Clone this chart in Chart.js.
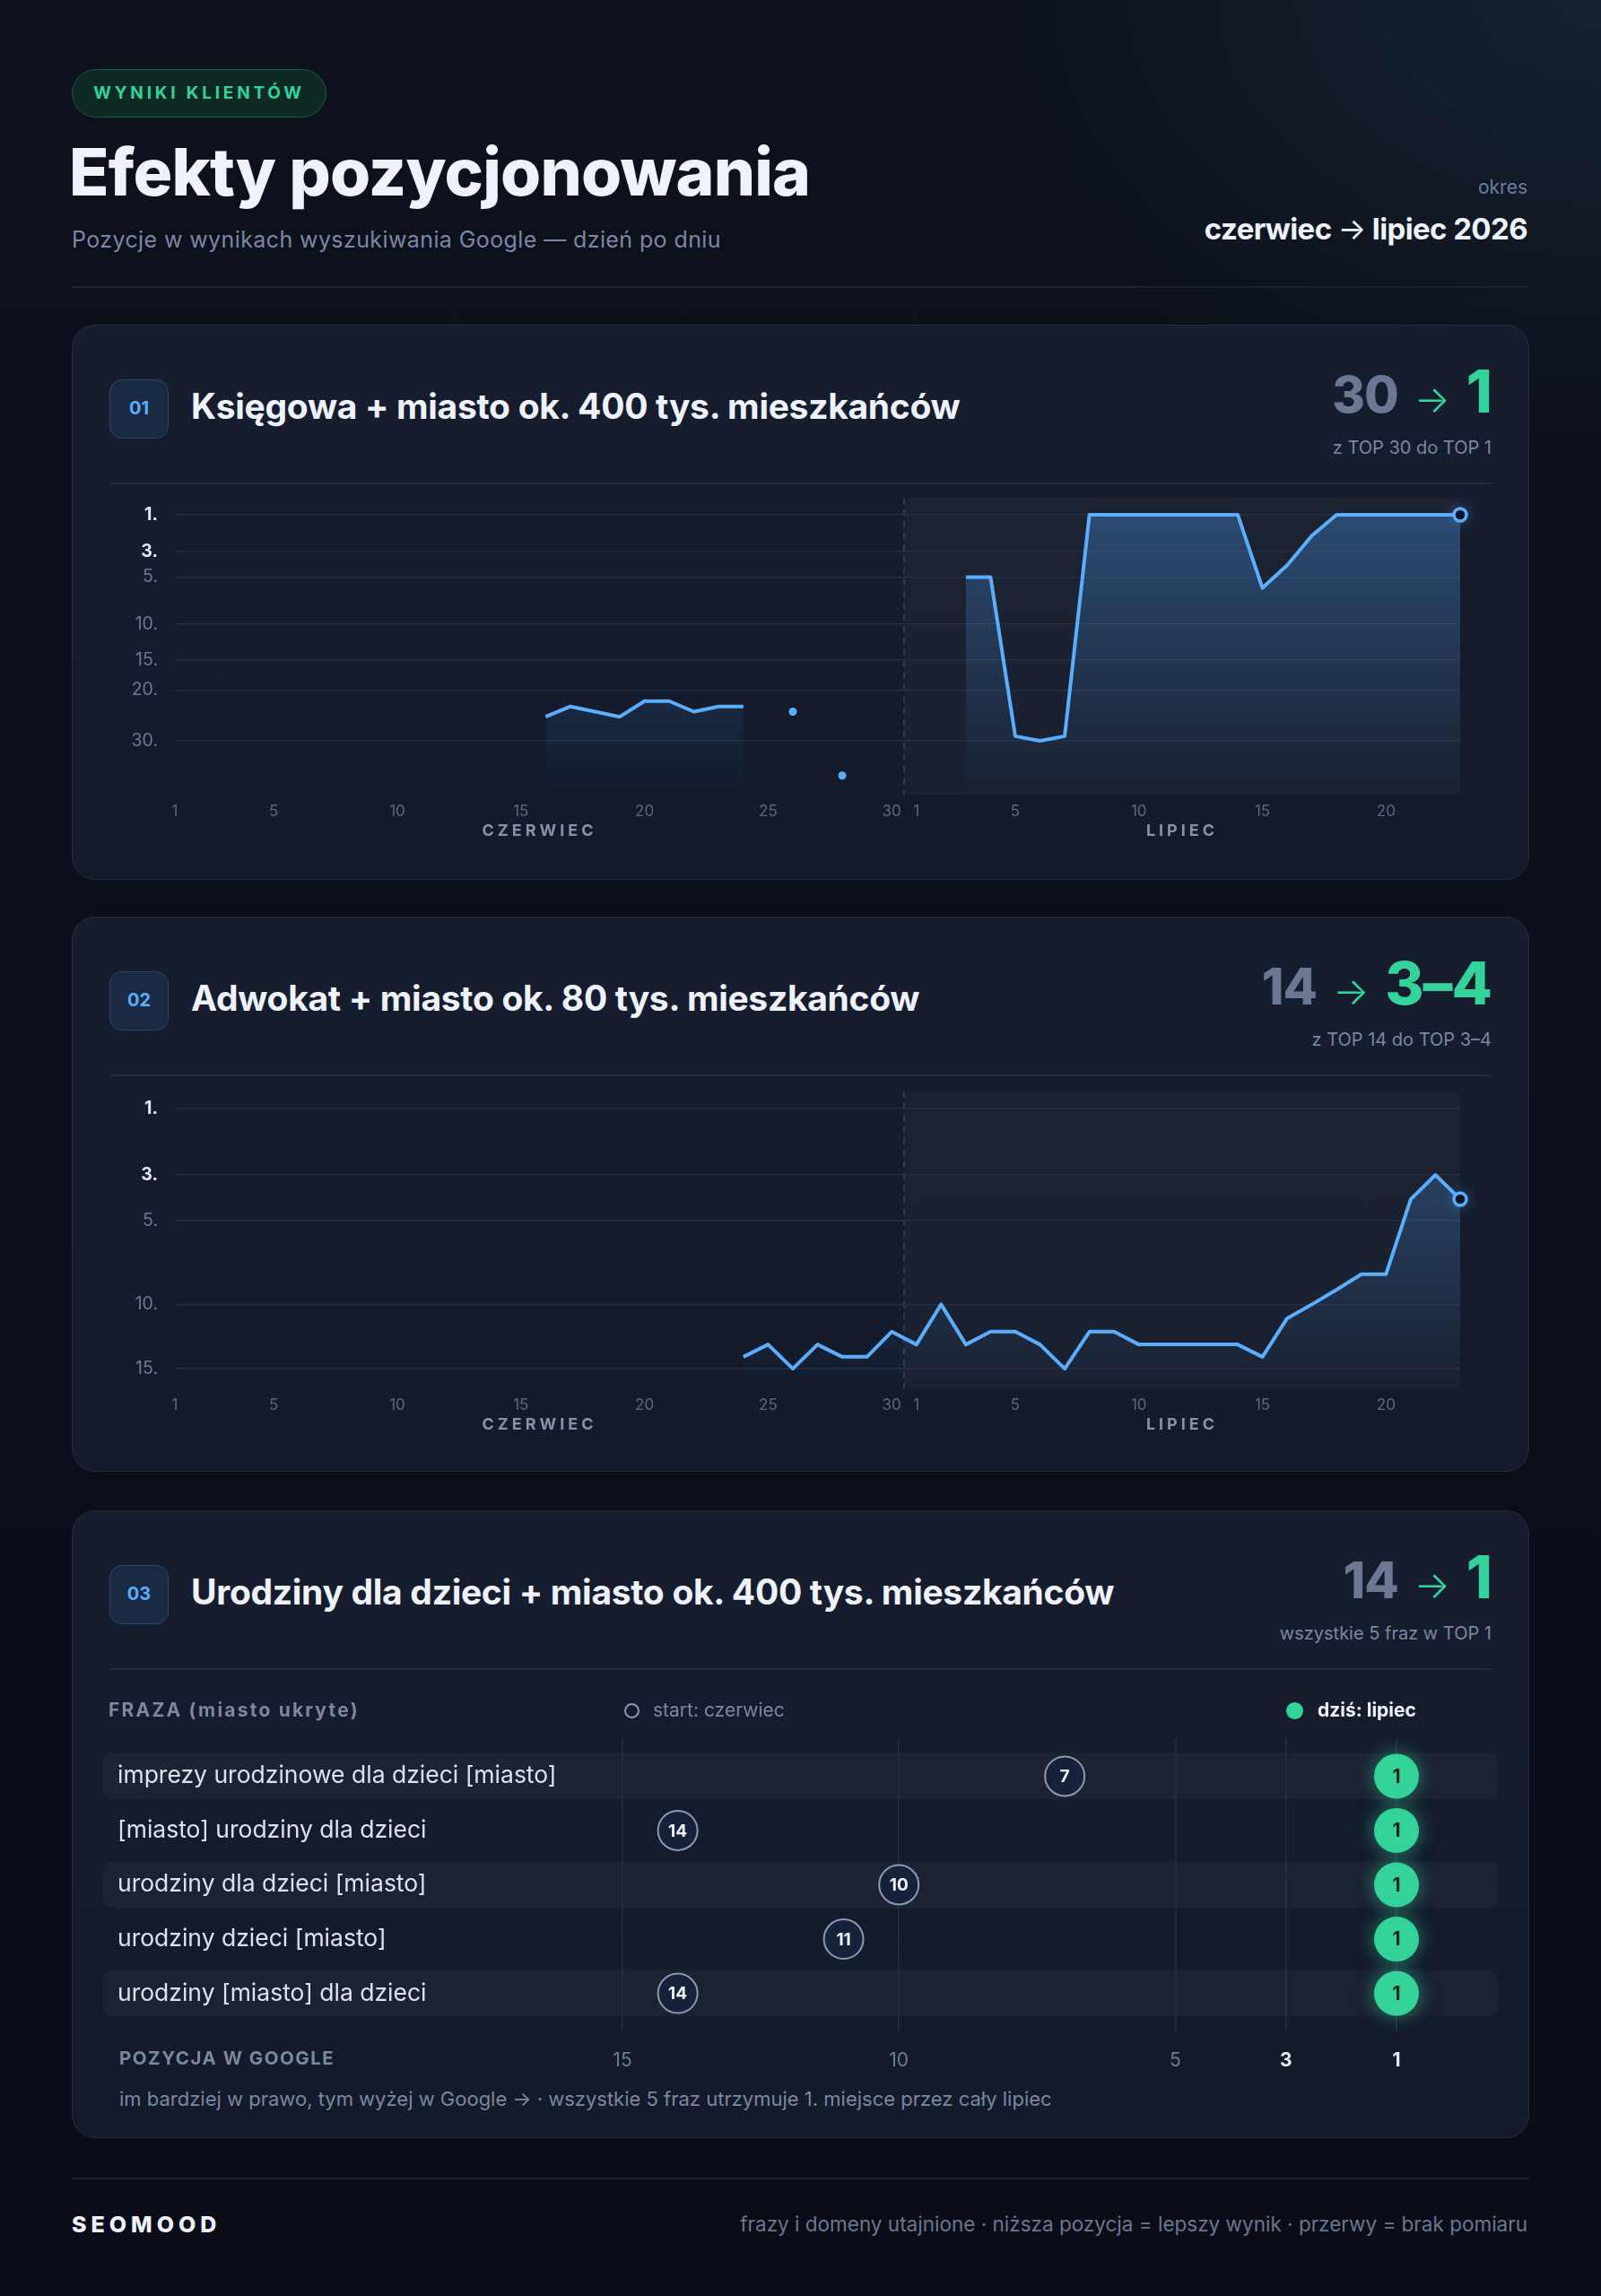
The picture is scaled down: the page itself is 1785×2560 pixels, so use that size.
<!DOCTYPE html>
<html lang="pl">
<head>
<meta charset="utf-8">
<title>Efekty pozycjonowania</title>
<script src="https://cdn.jsdelivr.net/npm/chart.js@4.4.1/dist/chart.umd.min.js"></script>
<style>
  html, body { margin: 0; padding: 0; }
  body {
    width: 1785px; height: 2560px; position: relative; overflow: hidden;
    font-family: 'Inter', sans-serif; color: #eef2fa;
    background:
      radial-gradient(ellipse 1000px 700px at 100% 0%, rgba(34,52,68,0.5), rgba(34,52,68,0) 70%),
      linear-gradient(180deg, #0c111c 0%, #0a0d17 100%);
  }
  .abs { position: absolute; white-space: nowrap; }
  .pill {
    left: 80px; top: 77px; width: 284px; height: 54px; box-sizing: border-box;
    border-radius: 27px; background: #0e2a25; border: 1.5px solid #1d5644;
    color: #34d399; font-weight: 700; font-size: 19px; letter-spacing: 3.8px;
    line-height: 51px; text-align: center;
  }
  .title { left: 77px; top: 156px; font-size: 73px; line-height: 72px; font-weight: 800; letter-spacing: -0.8px; }
  .subtitle { left: 80px; top: 252px; font-size: 25px; line-height: 30px; color: #7b87a6; letter-spacing: 0.4px; }
  .okres { right: 82px; top: 197px; font-size: 21px; line-height: 24px; color: #6c7ea0; }
  .period { right: 82px; top: 235px; font-size: 33px; line-height: 40px; font-weight: 700; letter-spacing: -0.6px; }
  .period span { font-weight: 400; }
  .hline { left: 80px; width: 1625px; height: 2px; background: #1b2231; }

  .card {
    position: absolute; left: 80px; width: 1625px; box-sizing: border-box;
    border-radius: 26px; border: 1.5px solid #232c3f;
    background: linear-gradient(180deg, #161d2f 0%, #131a2a 100%);
  }
  .badge {
    left: 41px; top: 60px; width: 66px; height: 66px; box-sizing: border-box;
    border-radius: 14px; background: #1b2a43; border: 1.5px solid #2c4569;
    color: #5aaefc; font-weight: 700; font-size: 20px; line-height: 63px; text-align: center;
  }
  .ctitle { left: 132px; top: 68px; font-size: 39px; line-height: 44px; font-weight: 700; letter-spacing: -0.3px; }
  .big { right: 41px; top: 40px; display: flex; align-items: baseline; gap: 18px; line-height: 1; font-weight: 800; }
  .big .from { font-size: 56px; color: #6b7793; letter-spacing: -1px; }
  .big .arr { font-size: 42px; color: #34d399; font-weight: 300; }
  .big .to { font-size: 66px; color: #34d399; letter-spacing: -1px; }
  .csub { right: 41px; top: 124px; font-size: 20px; line-height: 24px; color: #7d87a0; }
  .cdiv { left: 41px; right: 41px; top: 175px; height: 2px; background: #222a3c; }

  .lbl { font-size: 21px; line-height: 24px; color: #7d87a0; }
  .caps { font-weight: 700; letter-spacing: 2.2px; }
  canvas { position: absolute; }
</style>
</head>
<body>

<div class="abs pill">WYNIKI KLIENTÓW</div>
<div class="abs title">Efekty pozycjonowania</div>
<div class="abs subtitle">Pozycje w wynikach wyszukiwania Google — dzień po dniu</div>
<div class="abs okres">okres</div>
<div class="abs period">czerwiec <span>→</span> lipiec 2026</div>
<div class="abs hline" style="top:319px"></div>

<div id="cards"></div>

<canvas id="chart1" width="1580" height="430" style="left:100px;top:515px;width:1580px;height:430px"></canvas>
<canvas id="chart2" width="1580" height="430" style="left:100px;top:1177px;width:1580px;height:430px"></canvas>
<canvas id="chart3" width="1600" height="412" style="left:100px;top:1898px;width:1600px;height:412px"></canvas>

<!-- legenda tabeli fraz -->
<div class="abs lbl caps" style="left:121px;top:1895px">FRAZA (miasto ukryte)</div>
<div class="abs" style="left:696px;top:1899px;width:17px;height:17px;box-sizing:border-box;border:2px solid #8e98b2;border-radius:50%"></div>
<div class="abs lbl" style="left:728px;top:1895px">start: czerwiec</div>
<div class="abs" style="left:1434px;top:1898px;width:19px;height:19px;border-radius:50%;background:#34d399"></div>
<div class="abs lbl" style="left:1469px;top:1895px;color:#eef2fa;font-weight:700">dziś: lipiec</div>
<div class="abs lbl caps" style="left:133px;top:2283px;font-size:20.5px;letter-spacing:1.5px">POZYCJA W GOOGLE</div>
<div class="abs lbl" style="left:133px;top:2328px;font-size:22px">im bardziej w prawo, tym wyżej w Google → · wszystkie 5 fraz utrzymuje 1. miejsce przez cały lipiec</div>

<div class="abs hline" style="top:2428px"></div>
<div class="abs" style="left:80px;top:2465px;font-size:25px;line-height:30px;font-weight:800;letter-spacing:5px">SEOMOOD</div>
<div class="abs lbl" style="right:82px;top:2468px;font-size:22.5px;color:#6b7690">frazy i domeny utajnione · niższa pozycja = lepszy wynik · przerwy = brak pomiaru</div>

<script>
// ---- dane ----
var JUNE_DAYS = 30, JULY_DAYS = 23;
var DAY_LABELS = [];
for (var d = 1; d <= JUNE_DAYS; d++) DAY_LABELS.push(String(d));
for (var d2 = 1; d2 <= JULY_DAYS; d2++) DAY_LABELS.push(String(d2));
var SHOWN_DAYS = ['1', '5', '10', '15', '20', '25', '30'];

// pozycja w Google dzień po dniu (null = brak pomiaru)
var KSIEGOWA_POS = [
  null, null, null, null, null, null, null, null, null, null, null, null, null, null, null, // cz 1-15
  25, 23, 24, 25, 22, 22, 24, 23, 23,                                                       // cz 16-24
  null, 24, null, 38, null, null,                                                           // cz 25-30
  null, null, 5, 5, 29, 30, 29, 1, 1, 1, 1, 1, 1, 1, 6, 4, 2, 1, 1, 1, 1, 1, 1              // lip 1-23
];
var ADWOKAT_POS = [
  null, null, null, null, null, null, null, null, null, null, null, null,                   // cz 1-12
  null, null, null, null, null, null, null, null, null, null, null,                         // cz 13-23
  14, 13, 15, 13, 14, 14, 12,                                                               // cz 24-30
  13, 10, 13, 12, 12, 13, 15, 12, 12, 13, 13, 13, 13, 13, 14, 11, 10, 9, 8, 8, 4, 3, 4      // lip 1-23
];
var Y_TICKS_1 = [1, 3, 5, 10, 15, 20, 30];
var Y_TICKS_2 = [1, 3, 5, 10, 15];

var PHRASES = [
  'imprezy urodzinowe dla dzieci [miasto]',
  '[miasto] urodziny dla dzieci',
  'urodziny dla dzieci [miasto]',
  'urodziny dzieci [miasto]',
  'urodziny [miasto] dla dzieci'
];
var START_POS = [7, 14, 10, 11, 14];
var TODAY_POS = [1, 1, 1, 1, 1];
var POS_TICKS = [15, 10, 5, 3, 1];

var CARDS = [
  { top: 362, height: 619, num: '01', title: 'Księgowa + miasto ok. 400 tys. mieszkańców', from: '30', to: '1', sub: 'z TOP 30 do TOP 1' },
  { top: 1022, height: 619, num: '02', title: 'Adwokat + miasto ok. 80 tys. mieszkańców', from: '14', to: '3–4', sub: 'z TOP 14 do TOP 3–4' },
  { top: 1684, height: 700, num: '03', title: 'Urodziny dla dzieci + miasto ok. 400 tys. mieszkańców', from: '14', to: '1', sub: 'wszystkie 5 fraz w TOP 1' }
];

// ---- karty ----
var html = '';
CARDS.forEach(function (c) {
  html += '<div class="card" style="top:' + c.top + 'px;height:' + c.height + 'px">' +
    '<div class="abs badge">' + c.num + '</div>' +
    '<div class="abs ctitle">' + c.title + '</div>' +
    '<div class="abs big"><span class="from">' + c.from + '</span><span class="arr">→</span><span class="to">' + c.to + '</span></div>' +
    '<div class="abs csub">' + c.sub + '</div>' +
    '<div class="abs cdiv"></div></div>';
});
document.getElementById('cards').innerHTML = html;

Chart.defaults.font.family = 'Inter';

// tło lipca, przerywana linia i nazwy miesięcy
var monthPanel = {
  id: 'monthPanel',
  beforeDraw: function (chart) {
    var ctx = chart.ctx, a = chart.chartArea, x = chart.scales.x;
    var xSep = (x.getPixelForValue(JUNE_DAYS - 1) + x.getPixelForValue(JUNE_DAYS)) / 2;
    var xEnd = x.getPixelForValue(DAY_LABELS.length - 1);
    ctx.save();
    ctx.fillStyle = 'rgba(255,255,255,0.028)';
    ctx.beginPath();
    ctx.roundRect(xSep, a.top, xEnd - xSep, a.bottom - a.top, 8);
    ctx.fill();
    ctx.strokeStyle = '#3a4458';
    ctx.lineWidth = 1.5;
    ctx.setLineDash([7, 6]);
    ctx.beginPath();
    ctx.moveTo(xSep, a.top);
    ctx.lineTo(xSep, a.bottom);
    ctx.stroke();
    ctx.restore();
  },
  beforeDatasetsDraw: function (chart) {
    var meta = chart.getDatasetMeta(0);
    var pt = meta.data[meta.data.length - 1];
    var ctx = chart.ctx;
    ctx.save();
    ctx.shadowColor = 'rgba(90,174,252,0.9)';
    ctx.shadowBlur = 16;
    ctx.fillStyle = 'rgba(90,174,252,0.55)';
    ctx.beginPath();
    ctx.arc(pt.x, pt.y, 8, 0, Math.PI * 2);
    ctx.fill();
    ctx.restore();
  },
  afterDraw: function (chart) {
    var ctx = chart.ctx, a = chart.chartArea, x = chart.scales.x;
    var xSep = (x.getPixelForValue(JUNE_DAYS - 1) + x.getPixelForValue(JUNE_DAYS)) / 2;
    var xEnd = x.getPixelForValue(DAY_LABELS.length - 1);
    ctx.save();
    ctx.font = 'bold 18px Inter';
    ctx.letterSpacing = '4px';
    ctx.fillStyle = '#8891aa';
    ctx.textAlign = 'center';
    ctx.textBaseline = 'middle';
    ctx.fillText('CZERWIEC', (a.left + xSep) / 2, a.bottom + 40);
    ctx.fillText('LIPIEC', (xSep + xEnd) / 2, a.bottom + 40);
    ctx.restore();
  }
};

function makeLineChart(id, positions, yTicks, yMin, yMax) {
  var last = positions.length - 1;
  return new Chart(document.getElementById(id), {
    type: 'line',
    data: {
      labels: DAY_LABELS,
      datasets: [{
        data: positions.map(function (p) { return p == null ? null : Math.sqrt(p); }),
        borderColor: '#5aaefc',
        borderWidth: 4,
        borderJoinStyle: 'round',
        tension: 0,
        spanGaps: false,
        clip: false,
        fill: { value: yMax },
        backgroundColor: function (c) {
          var area = c.chart.chartArea;
          if (!area) return 'rgba(90,170,252,0.15)';
          var g = c.chart.ctx.createLinearGradient(0, area.top, 0, area.bottom);
          g.addColorStop(0, 'rgba(80,160,245,0.34)');
          g.addColorStop(0.6, 'rgba(80,160,245,0.14)');
          g.addColorStop(1, 'rgba(80,160,245,0.0)');
          return g;
        },
        pointRadius: function (c) {
          var dd = c.dataset.data, i = c.dataIndex;
          if (dd[i] == null) return 0;
          if (i === last) return 7;
          if (dd[i - 1] == null && dd[i + 1] == null) return 4.5;
          return 0;
        },
        pointBackgroundColor: function (c) { return c.dataIndex === last ? '#0f1524' : '#5aaefc'; },
        pointBorderColor: '#5aaefc',
        pointBorderWidth: function (c) { return c.dataIndex === last ? 3.5 : 0; }
      }]
    },
    options: {
      responsive: false,
      animation: false,
      events: [],
      layout: { padding: { top: 40, right: 52, left: 0, bottom: 0 } },
      plugins: { legend: { display: false }, tooltip: { enabled: false } },
      scales: {
        x: {
          grid: { display: false },
          border: { display: false },
          ticks: {
            autoSkip: false, maxRotation: 0, padding: 0, color: '#5c6680', font: { size: 17 },
            callback: function (v) {
              var l = this.getLabelForValue(v);
              return SHOWN_DAYS.indexOf(l) >= 0 ? l : '';
            }
          },
          afterFit: function (s) { s.height = 58; }
        },
        y: {
          type: 'linear', reverse: true, min: yMin, max: yMax,
          afterBuildTicks: function (s) {
            s.ticks = yTicks.map(function (v) { return { value: Math.sqrt(v) }; });
          },
          grid: { color: '#252e41', lineWidth: 1.5, drawTicks: false },
          border: { display: false },
          ticks: {
            padding: 19,
            callback: function (v) { return Math.round(v * v) + '.'; },
            color: function (c) { return c.tick && c.tick.value < 1.8 ? '#e3e8f2' : '#6e7891'; },
            font: function (c) { return { size: 19.5, weight: c.tick && c.tick.value < 1.8 ? 'bold' : 'normal' }; }
          },
          afterFit: function (s) { s.width = 95; }
        }
      }
    },
    plugins: [monthPanel]
  });
}

makeLineChart('chart1', KSIEGOWA_POS, Y_TICKS_1, 0.663, 6.56);
makeLineChart('chart2', ADWOKAT_POS, Y_TICKS_2, 0.81, 4.10);

// ---- tabela fraz ----
var phraseMarks = {
  id: 'phraseMarks',
  beforeDraw: function (chart) {
    var ctx = chart.ctx, y = chart.scales.y;
    ctx.save();
    ctx.fillStyle = 'rgba(255,255,255,0.032)';
    PHRASES.forEach(function (p, i) {
      if (i % 2) return;
      var cy = y.getPixelForValue(i);
      ctx.beginPath();
      ctx.roundRect(15, cy - 26, chart.width - 45, 52, 10);
      ctx.fill();
    });
    ctx.restore();
  },
  beforeDatasetDraw: function (chart, args) {
    if (args.index !== 1) return;
    chart.ctx.save();
    chart.ctx.shadowColor = 'rgba(52,211,153,0.55)';
    chart.ctx.shadowBlur = 20;
  },
  afterDatasetDraw: function (chart, args) {
    if (args.index === 1) chart.ctx.restore();
  },
  afterDatasetsDraw: function (chart) {
    var ctx = chart.ctx;
    ctx.save();
    ctx.textAlign = 'center';
    ctx.textBaseline = 'middle';
    [START_POS, TODAY_POS].forEach(function (vals, di) {
      var meta = chart.getDatasetMeta(di);
      ctx.font = di === 0 ? 'bold 19px Inter' : 'bold 21px Inter';
      ctx.fillStyle = di === 0 ? '#eef2fa' : '#06251a';
      meta.data.forEach(function (el, i) {
        ctx.fillText(String(vals[i]), el.x, el.y + 1);
      });
    });
    ctx.restore();
  }
};

new Chart(document.getElementById('chart3'), {
  type: 'scatter',
  data: {
    datasets: [{
      data: START_POS.map(function (p, i) { return { x: p, y: i }; }),
      pointRadius: 22,
      pointBackgroundColor: '#18213a',
      pointBorderColor: '#8e98b2',
      pointBorderWidth: 2,
      clip: false
    }, {
      data: TODAY_POS.map(function (p, i) { return { x: p, y: i }; }),
      pointRadius: 25,
      pointBackgroundColor: '#34d399',
      pointBorderWidth: 0,
      clip: false
    }]
  },
  options: {
    responsive: false,
    animation: false,
    events: [],
    layout: { padding: { left: 31, right: 143, top: 40, bottom: 0 } },
    plugins: { legend: { display: false }, tooltip: { enabled: false } },
    scales: {
      x: {
        type: 'linear', reverse: true, min: 1, max: 15,
        afterBuildTicks: function (s) {
          s.ticks = POS_TICKS.map(function (v) { return { value: v }; });
        },
        grid: { color: '#262f42', lineWidth: 1.5, drawTicks: false },
        border: { display: false },
        ticks: {
          padding: 20,
          color: function (c) { return c.tick && c.tick.value <= 3 ? '#e8edf6' : '#6f7a94'; },
          font: function (c) { return { size: 21, weight: c.tick && c.tick.value <= 3 ? 'bold' : 'normal' }; }
        },
        afterFit: function (s) { s.height = 45; }
      },
      y: {
        type: 'linear', reverse: true, min: -0.7, max: 4.7,
        afterBuildTicks: function (s) {
          s.ticks = PHRASES.map(function (p, i) { return { value: i }; });
        },
        grid: { display: false },
        border: { display: false },
        ticks: {
          crossAlign: 'far', padding: 0, color: '#dde3ee', font: { size: 26.5 },
          callback: function (v) { return PHRASES[v]; }
        },
        afterFit: function (s) { s.width = 563; }
      }
    }
  },
  plugins: [phraseMarks]
});
</script>
</body>
</html>
